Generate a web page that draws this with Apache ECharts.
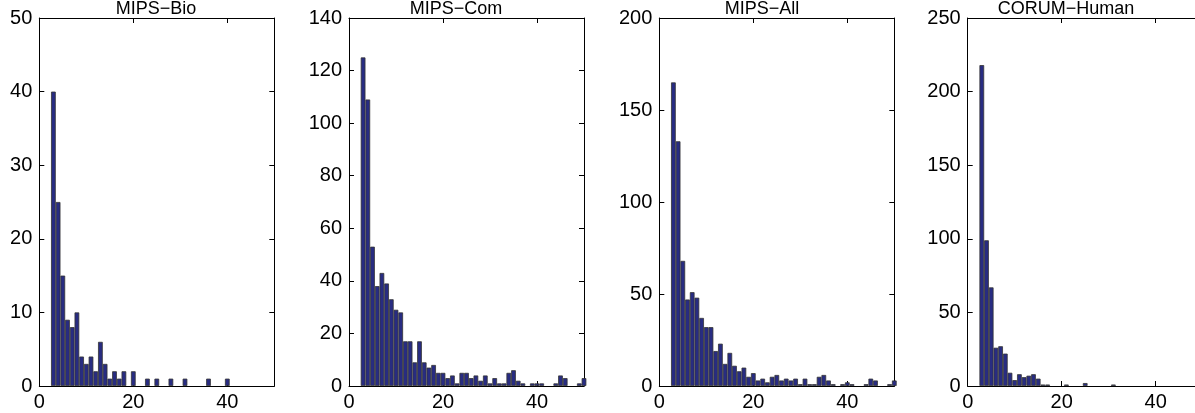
<!DOCTYPE html>
<html>
<head>
<meta charset="utf-8">
<script src="https://cdn.jsdelivr.net/npm/echarts@6/dist/echarts.min.js"></script>
<style>
html,body{margin:0;padding:0;background:#fff;}
#chart{width:1195px;height:413px;}
</style>
</head>
<body>
<div id="chart"></div>
<script>
// Complex sizes (bin centres) 3..50
const sizes = [];
for (let s = 3; s <= 50; s++) sizes.push(s);

const titles = ["MIPS\u2212Bio", "MIPS\u2212Com", "MIPS\u2212All", "CORUM\u2212Human"];

// counts for sizes 3..50
const mipsBio = [40,25,15,9,8,10,4,3,4,2, 6,3,1,2,1,2,0,2,0,0, 1,0,1,0,0,1,0,0,1,0, 0,0,0,1,0,0,0,1,0,0, 0,0,0,0,0,0,0,0];
const mipsCom = [125,109,53,38,43,39,33,29,28,17, 17,9,17,9,7,8,5,5,3,4, 1,5,5,3,4,2,4,1,3,1, 1,5,6,2,1,0,1,1,1,0, 0,1,4,3,0,0,1,3];
const mipsAll = [165,133,68,47,51,48,37,32,32,19, 23,12,18,11,8,10,5,7,3,4, 2,5,6,3,4,3,4,1,4,1, 1,5,6,3,1,0,1,2,1,0, 0,1,4,3,0,0,1,3];
const corumHuman = [218,99,67,26,27,22,9,4,8,6, 7,8,5,1,1,0,0,0,1,0, 0,0,2,0,0,0,0,0,1,0, 0,0,0,0,0,0,0,0,0,0, 0,0,0,0,0,0,0,0];

const xTicks = {min: 0, max: 50, interval: 20};
const yMaxes = [50, 140, 200, 250];
const yIntervals = [10, 20, 50, 50];
const allCounts = [mipsBio, mipsCom, mipsAll, corumHuman];

// layout
const lefts = [39.3, 349, 659.3, 967.7];
const titleCenters = [156, 456, 762, 1066];
const gTop = 18, pw = 235, ph = 368;
const FONT = "'Liberation Sans', Arial, Helvetica, sans-serif";

const grid = [], xAxis = [], yAxis = [], series = [], title = [];
lefts.forEach((l, i) => {
  grid.push({left: l, top: gTop, width: pw, height: ph, containLabel: false, outerBoundsMode: 'none'});
  title.push({
    text: titles[i], left: titleCenters[i], top: 0, padding: 0, textAlign: 'center',
    textStyle: {fontSize: 18, fontWeight: 'normal', color: '#000', fontFamily: FONT}
  });
  const axLine = {show: true, onZero: false, lineStyle: {color: '#000', width: 1}};
  const tick = {show: true, inside: true, length: 5, lineStyle: {color: '#000', width: 1}};
  xAxis.push({
    type: 'value', gridIndex: i, position: 'bottom', min: xTicks.min, max: xTicks.max, interval: xTicks.interval,
    axisLine: axLine, axisTick: tick, splitLine: {show: false},
    axisLabel: {show: true, fontSize: 20, color: '#000', fontFamily: FONT, margin: 6, showMaxLabel: false}
  });
  xAxis.push({
    type: 'value', gridIndex: i, position: 'top', min: xTicks.min, max: xTicks.max, interval: xTicks.interval,
    axisLine: axLine, axisTick: tick, splitLine: {show: false}, axisLabel: {show: false}
  });
  yAxis.push({
    type: 'value', gridIndex: i, position: 'left', min: 0, max: yMaxes[i], interval: yIntervals[i],
    axisLine: axLine, axisTick: tick, splitLine: {show: false},
    axisLabel: {show: true, fontSize: 20, color: '#000', fontFamily: FONT, margin: 7}
  });
  yAxis.push({
    type: 'value', gridIndex: i, position: 'right', min: 0, max: yMaxes[i], interval: yIntervals[i],
    axisLine: axLine, axisTick: tick, splitLine: {show: false}, axisLabel: {show: false}
  });
  const data = [];
  sizes.forEach((s, j) => { if (allCounts[i][j] > 0) data.push([s, allCounts[i][j]]); });
  series.push({
    type: 'bar', xAxisIndex: 2 * i, yAxisIndex: 2 * i, data: data,
    barWidth: pw / (xTicks.max - xTicks.min),
    itemStyle: {color: '#282c82', borderColor: '#333333', borderWidth: 0.8},
    emphasis: {disabled: true}, silent: true, animation: false, clip: true
  });
});

const chart = echarts.init(document.getElementById('chart'), null, {renderer: 'canvas'});
chart.setOption({
  backgroundColor: '#fff',
  animation: false,
  title: title,
  grid: grid,
  xAxis: xAxis,
  yAxis: yAxis,
  series: series
});
</script>
</body>
</html>
